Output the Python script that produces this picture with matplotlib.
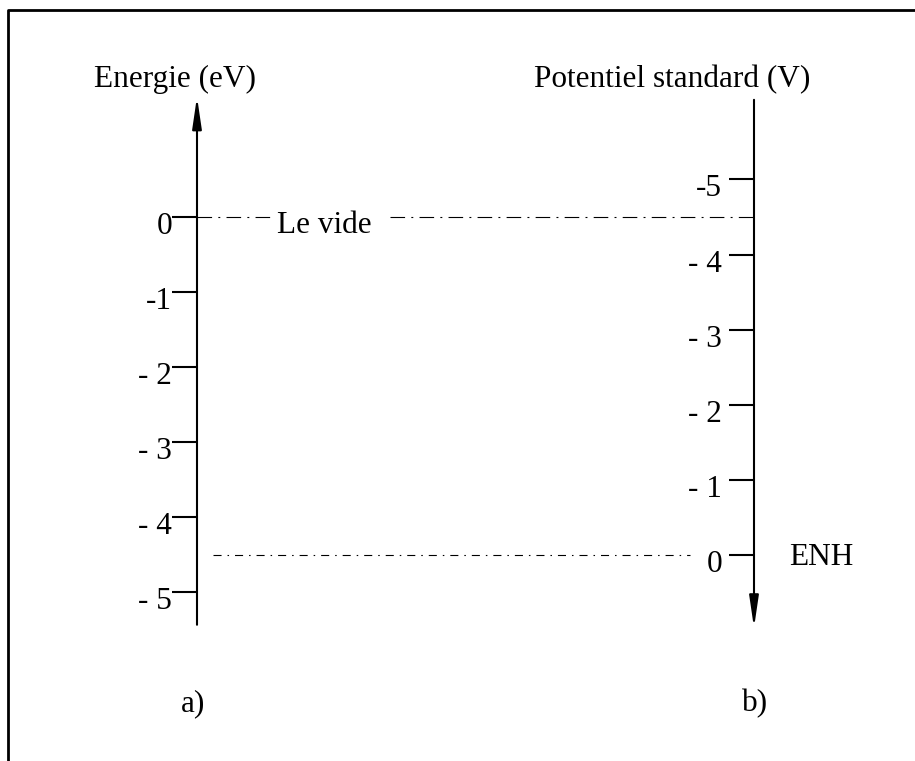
import matplotlib
matplotlib.use('Agg')
import matplotlib.pyplot as plt
from matplotlib.lines import Line2D

# energy scale (eV, relative to vacuum) and standard potential scale (V vs ENH)
energy_ticks = [0, -1, -2, -3, -4, -5]
energy_labels = ["0", "-1", "- 2", "- 3", "- 4", "- 5"]
potential_ticks = [-5, -4, -3, -2, -1, 0]
potential_labels = ["-5", "- 4", "- 3", "- 2", "- 1", "0"]
vacuum_energy = 0.0      # eV
enh_energy = -4.5        # eV, ENH level below vacuum


def potential_to_energy(v):
    return -v + enh_energy


plt.rcParams['font.family'] = ['Liberation Serif', 'DejaVu Serif']
plt.rcParams['font.size'] = 22.5
plt.rcParams['lines.scale_dashes'] = False

W, H = 915, 761
fig = plt.figure(figsize=(W / 100, H / 100), dpi=100)
ax = fig.add_axes([0, 0, 1, 1])
ax.set_xlim(0, W)
ax.set_ylim(-7.244, 2.889)
ax.set_axis_off()

xa, xb = 197, 754   # x of the two vertical axes (pixels)
tick_len = 25
arrow = dict(arrowstyle='-|>,head_length=0.95,head_width=0.14', lw=1.5,
             color='k', shrinkA=0, shrinkB=0, mutation_scale=20)

# a) energy axis, pointing up
ax.annotate('', xy=(xa, 1.60), xytext=(xa, -5.43), arrowprops=arrow)
ax.hlines(energy_ticks, xa - tick_len, xa, color='k', lw=1.5)
for e, lab in zip(energy_ticks, energy_labels):
    ax.annotate(lab, xy=(172, e), xytext=(0, -17), textcoords='offset pixels',
                ha='right', va='baseline')

# b) potential axis, pointing down
ax.annotate('', xy=(xb, -5.47), xytext=(xb, 1.56), arrowprops=arrow)
pot_e = [potential_to_energy(v) for v in potential_ticks]
ax.hlines(pot_e, xb - tick_len, xb, color='k', lw=1.5)
for e, lab in zip(pot_e, potential_labels):
    ax.annotate(lab, xy=(722, e), xytext=(0, -17), textcoords='offset pixels',
                ha='right', va='baseline')

# vacuum level
top_ls = (0, (10.5, 4.5, 1.4, 4.5))
ax.plot([xa, 272], [vacuum_energy] * 2, color='k', lw=0.8, ls=top_ls)
ax.plot([390, xb], [vacuum_energy] * 2, color='k', lw=0.8, ls=top_ls)
ax.annotate('Le vide', xy=(277, vacuum_energy), xytext=(0, -16),
            textcoords='offset pixels', ha='left', va='baseline')

# ENH level
ax.plot([213, 690], [enh_energy] * 2, color='k', lw=0.8,
        ls=(0, (5.8, 4.3, 1.1, 4.3)))
ax.annotate('ENH', xy=(789, enh_energy), xytext=(0, -10),
            textcoords='offset pixels', ha='left', va='baseline')

# titles and panel letters
fig.text(175 / W, 1 - 87 / H, 'Energie (eV)', ha='center', va='baseline')
fig.text(672 / W, 1 - 87 / H, 'Potentiel standard (V)', ha='center', va='baseline')
fig.text(193 / W, 1 - 711 / H, 'a)', ha='center', va='baseline')
fig.text(755 / W, 1 - 711 / H, 'b)', ha='center', va='baseline')

# frame (top and left edges only)
fig.add_artist(Line2D([8 / W, 8 / W, 1], [0, 1 - 10 / H, 1 - 10 / H],
                      transform=fig.transFigure, color='k', lw=2))

fig.savefig('out.png', dpi=100)
